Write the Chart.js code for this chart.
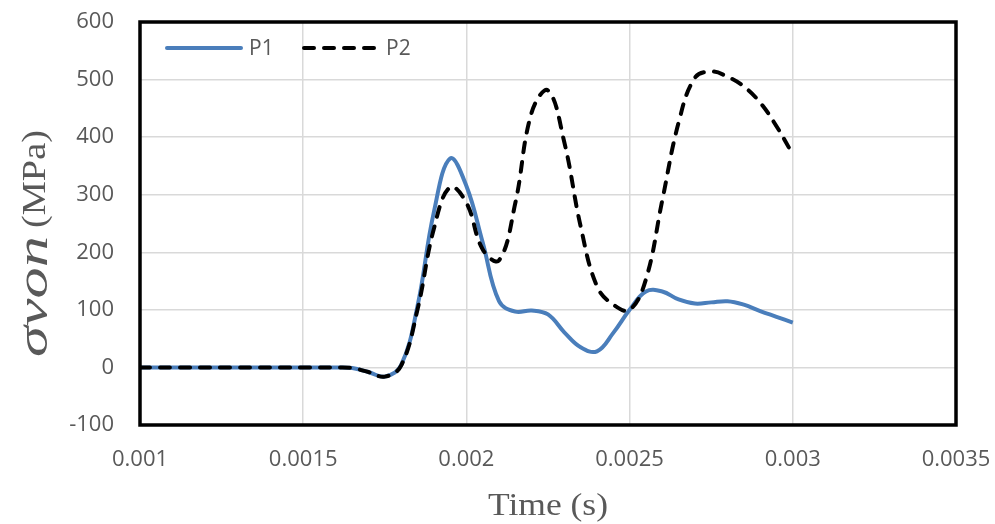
<!DOCTYPE html>
<html lang="en">

<head>
    <meta charset="UTF-8">
    <title>σvon vs Time</title>
    <script src="https://cdn.jsdelivr.net/npm/chart.js"></script>
    <style>
        body { margin: 0; background: #fff; }
        #wrap { width: 995px; height: 524px; }
    </style>
</head>

<body>
    <div id="wrap"><canvas id="stressChart" width="995" height="524"></canvas></div>
    <script>
        // time (s)
        const time = [0.001, 0.00105, 0.0011, 0.00115, 0.0012, 0.00125, 0.0013, 0.00135, 0.0014, 0.00145,
            0.0015, 0.00155, 0.0016, 0.00165, 0.0017, 0.00175, 0.0018, 0.00185, 0.0019, 0.00195,
            0.002, 0.00205, 0.0021, 0.00215, 0.0022, 0.00225, 0.0023, 0.00235, 0.0024, 0.00245,
            0.0025, 0.00255, 0.0026, 0.00265, 0.0027, 0.00275, 0.0028, 0.00285, 0.0029, 0.00295, 0.003];
        // von Mises stress (MPa)
        const p1 = [0, 0, 0, 0, 0, 0, 0, 0, 0, 0,
            0, 0, 0, -1, -8, -16, 4, 106, 269, 363,
            315, 217, 115, 97, 99, 92, 61, 35, 28, 60,
            100, 132, 132, 118, 111, 113, 115, 109, 98, 88, 78];
        const p2 = [0, 0, 0, 0, 0, 0, 0, 0, 0, 0,
            0, 0, 0, -1, -8, -16, 3, 100, 240, 313,
            286, 205, 186, 286, 443, 481, 391, 245, 141, 109,
            100, 153, 290, 425, 503, 514, 505, 488, 460, 419, 370];

        const xTicks = { min: 0.001, max: 0.0035, step: 0.0005 };
        const yTicks = { min: -100, max: 600, step: 100 };

        const seriesNames = ['P1', 'P2'];
        const seriesColors = ['#4a7ebb', '#000000'];

        const tickFont = { family: 'Open Sans', size: 22 };
        const gray = '#595959';

        function toPoints(vals) {
            return time.map((t, i) => ({ x: t, y: vals[i] }));
        }

        function fitText(ctx, txt, x, y, w) {
            const m = ctx.measureText(txt).width;
            ctx.save();
            ctx.translate(x, y);
            ctx.scale(w / m, 1);
            ctx.fillText(txt, 0, 0);
            ctx.restore();
        }

        // keep the plot box where it is in the picture
        function noPad(s) {
            s.paddingTop = 0;
            s.paddingBottom = 0;
            s.paddingLeft = 0;
            s.paddingRight = 0;
        }

        const decorations = {
            id: 'decorations',
            afterDatasetsDraw(chart) {
                const ctx = chart.ctx;
                const a = chart.chartArea;
                ctx.save();
                // frame
                ctx.strokeStyle = '#000';
                ctx.lineWidth = 3.5;
                ctx.strokeRect(a.left, a.top, a.right - a.left, a.bottom - a.top);

                // legend
                ctx.lineWidth = 4;
                ctx.lineCap = 'round';
                ctx.strokeStyle = seriesColors[0];
                ctx.beginPath(); ctx.moveTo(167, 48); ctx.lineTo(241, 48); ctx.stroke();
                ctx.strokeStyle = seriesColors[1];
                ctx.setLineDash([10, 10]);
                ctx.beginPath(); ctx.moveTo(304, 48); ctx.lineTo(380, 48); ctx.stroke();
                ctx.setLineDash([]);
                ctx.fillStyle = gray;
                ctx.font = '21px "Open Sans"';
                ctx.textBaseline = 'middle';
                ctx.fillText(seriesNames[0], 249, 49);
                ctx.fillText(seriesNames[1], 386, 49);

                // x title
                ctx.fillStyle = '#595959';
                ctx.textBaseline = 'alphabetic';
                ctx.font = '31px "Liberation Serif"';
                fitText(ctx, 'Time (s)', 488, 515, 120);

                // y title (rotated)
                ctx.translate(47, 357);
                ctx.rotate(-Math.PI / 2);
                ctx.font = 'italic 44px "Liberation Serif"';
                fitText(ctx, 'σvon', 0, 0, 121);
                ctx.font = '34px "Liberation Serif"';
                fitText(ctx, '(MPa)', 129, -2, 98);
                ctx.restore();
            }
        };

        const ctx = document.getElementById('stressChart').getContext('2d');
        new Chart(ctx, {
            type: 'scatter',
            data: {
                datasets: [
                    {
                        label: seriesNames[0],
                        data: toPoints(p1),
                        showLine: true,
                        borderColor: seriesColors[0],
                        borderWidth: 4,
                        pointRadius: 0,
                        tension: 0.4,
                        order: 1
                    },
                    {
                        label: seriesNames[1],
                        data: toPoints(p2),
                        showLine: true,
                        borderColor: seriesColors[1],
                        borderWidth: 4,
                        borderDash: [10, 10],
                        borderCapStyle: 'round',
                        pointRadius: 0,
                        tension: 0.4,
                        order: 0
                    }
                ]
            },
            options: {
                responsive: false,
                animation: false,
                layout: { padding: { top: 22, right: 39, left: 0, bottom: 0 } },
                plugins: {
                    legend: { display: false },
                    tooltip: { enabled: false }
                },
                scales: {
                    x: {
                        type: 'linear',
                        min: xTicks.min,
                        max: xTicks.max,
                        afterFit: s => { s.height = 99; noPad(s); },
                        grid: { color: '#d9d9d9', lineWidth: 1.5, drawTicks: false },
                        border: { display: false },
                        ticks: {
                            stepSize: xTicks.step,
                            padding: 22,
                            color: gray,
                            font: tickFont,
                            maxRotation: 0,
                            callback: v => String(parseFloat(v.toFixed(5)))
                        }
                    },
                    y: {
                        min: yTicks.min,
                        max: yTicks.max,
                        afterFit: s => { s.width = 140; noPad(s); },
                        grid: { color: '#d9d9d9', lineWidth: 1.5, drawTicks: false },
                        border: { display: false },
                        ticks: {
                            stepSize: yTicks.step,
                            padding: 26,
                            color: gray,
                            font: tickFont
                        }
                    }
                }
            },
            plugins: [decorations]
        });
    </script>
</body>

</html>
